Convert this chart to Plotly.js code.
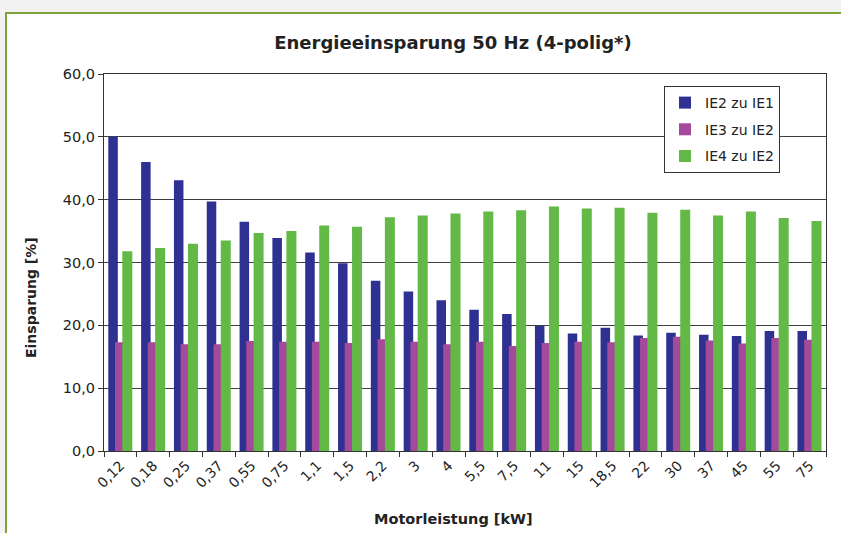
<!DOCTYPE html>
<html>
<head>
<meta charset="utf-8">
<script src="https://cdn.plot.ly/plotly-3.0.1.min.js"></script>
<style>
  html, body { margin: 0; padding: 0; background: #F2F2F2; }
  #chart { width: 841px; height: 533px; }
</style>
</head>
<body>
<div id="chart"></div>
<script>
const categories = ["0,12","0,18","0,25","0,37","0,55","0,75","1,1","1,5","2,2","3","4","5,5","7,5","11","15","18,5","22","30","37","45","55","75"];
const ie2zuIe1 = [50.0, 46.0, 43.1, 39.7, 36.5, 33.9, 31.6, 29.9, 27.1, 25.4, 24.0, 22.5, 21.8, 19.9, 18.7, 19.6, 18.4, 18.8, 18.5, 18.3, 19.1, 19.1];
const ie3zuIe2 = [17.3, 17.3, 17.0, 17.0, 17.5, 17.4, 17.4, 17.2, 17.8, 17.4, 17.0, 17.4, 16.7, 17.2, 17.4, 17.3, 18.0, 18.2, 17.6, 17.1, 18.0, 17.7];
const ie4zuIe2 = [31.8, 32.3, 33.0, 33.5, 34.7, 35.0, 35.9, 35.7, 37.2, 37.5, 37.8, 38.1, 38.3, 38.9, 38.6, 38.7, 37.9, 38.4, 37.5, 38.1, 37.1, 36.6];
const seriesNames = ["IE2 zu IE1", "IE3 zu IE2", "IE4 zu IE2"];
const chartTitle = "Energieeinsparung 50 Hz (4-polig*)";
const xTitle = "Motorleistung [kW]";
const yTitle = "Einsparung [%]";

const FONT = "DejaVu Sans, Verdana, sans-serif";
const colors = ["#2E3192", "#A5499B", "#62B946"];
const offsets = [-0.369, -0.165, 0.058];
const widths = [0.29, 0.29, 0.305];
const values = [ie2zuIe1, ie3zuIe2, ie4zuIe2];

const traces = values.map((v, i) => ({
  type: "bar",
  name: seriesNames[i],
  x: categories,
  y: v,
  offset: offsets[i],
  width: widths[i],
  legendgroup: "g" + i,
  marker: { color: colors[i], line: { width: 0 } },
  hoverinfo: "skip"
}));

// plot area: x 104..826, y 74..451
const L = 104, R = 826, T = 74, B = 451;
const px = x => (x - L) / (R - L);
const py = y => (B - y) / (B - T);

const GREEN_BORDER = "#7DA33A";

const layout = {
  width: 841, height: 533,
  margin: { l: L, r: 841 - R, t: T, b: 533 - B, pad: 0 },
  paper_bgcolor: "#F2F2F2",
  plot_bgcolor: "#FFFFFF",
  barmode: "overlay",
  separators: ",.",
  font: { family: FONT, color: "#222" },
  title: {
    text: "<b>" + chartTitle + "</b>",
    font: { family: FONT, size: 18, color: "#222" },
    x: 453 / 841, xref: "container", xanchor: "center",
    y: 1 - 43 / 533, yref: "container", yanchor: "middle"
  },
  xaxis: {
    type: "category",
    tickangle: -45,
    ticks: "outside", ticklen: 5, tickcolor: "#333", tickson: "boundaries",
    showline: true, linecolor: "#333", linewidth: 1, mirror: true,
    showgrid: false,
    tickfont: { family: FONT, size: 14, color: "#222" },
    automargin: false
  },
  yaxis: {
    range: [0, 60], dtick: 10, tick0: 0, tickformat: ".1f",
    ticks: "outside", ticklen: 5, tickcolor: "#333",
    showline: true, linecolor: "#333", linewidth: 1, mirror: true,
    showgrid: true, gridcolor: "#3f3f3f", gridwidth: 1,
    zeroline: false,
    tickfont: { family: FONT, size: 14.5, color: "#222" },
    automargin: false
  },
  showlegend: true,
  legend: {
    x: px(664), xanchor: "left",
    y: py(86), yanchor: "top",
    bgcolor: "#FFFFFF", bordercolor: "#333", borderwidth: 1,
    font: { family: FONT, size: 14, color: "#222" },
    traceorder: "grouped", tracegroupgap: 5.5,
    itemclick: false, itemdoubleclick: false
  },
  shapes: [
    {
      type: "rect", layer: "below",
      xref: "paper", yref: "paper",
      x0: px(6), x1: px(841), y0: py(533), y1: py(13),
      fillcolor: "#FFFFFF",
      line: { width: 0 }
    },
    {
      type: "line", layer: "below",
      xref: "paper", yref: "paper",
      x0: px(5), x1: px(841), y0: py(13), y1: py(13),
      line: { color: GREEN_BORDER, width: 2 }
    },
    {
      type: "line", layer: "below",
      xref: "paper", yref: "paper",
      x0: px(6), x1: px(6), y0: py(533), y1: py(12),
      line: { color: GREEN_BORDER, width: 2 }
    }
  ],
  annotations: [
    {
      text: "<b>" + xTitle + "</b>", showarrow: false,
      xref: "paper", yref: "paper", x: px(453), y: py(519),
      xanchor: "center", yanchor: "middle",
      font: { family: FONT, size: 14.5, color: "#222" }
    },
    {
      text: "<b>" + yTitle + "</b>", showarrow: false, textangle: -90,
      xref: "paper", yref: "paper", x: px(31), y: py(298),
      xanchor: "center", yanchor: "middle",
      font: { family: FONT, size: 14, color: "#222" }
    }
  ]
};

Plotly.newPlot("chart", traces, layout, { displayModeBar: false, staticPlot: true });
</script>
</body>
</html>
